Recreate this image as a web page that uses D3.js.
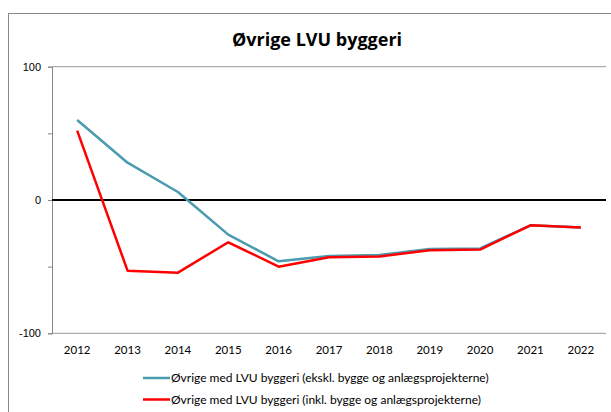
<!DOCTYPE html>
<html><head><meta charset="utf-8">
<script src="https://cdn.jsdelivr.net/npm/d3@7"></script>
<style>body{margin:0;background:#fff}svg{display:block}</style>
</head><body>
<script>
const years = ["2012","2013","2014","2015","2016","2017","2018","2019","2020","2021","2022"];
const ekskl = [60, 28, 6, -26, -46, -42, -41.3, -36.8, -36.3, -19, -20.7];
const inkl = [52, -53, -54.5, -31.7, -50, -43, -42.3, -37.7, -37.2, -19, -20.7];
const seriesNames = ["Øvrige med LVU byggeri (ekskl. bygge og anlægsprojekterne)", "Øvrige med LVU byggeri (inkl. bygge og anlægsprojekterne)"];
const colors = ["#4A9BB0", "#FF0000"];
const yTicks = [-100, -50, 0, 50, 100];
const yLabels = [-100, 0, 100];
const title = "Øvrige LVU byggeri";

const W = 611, H = 412;
const svg = d3.select("body").append("svg").attr("width", W).attr("height", H);
svg.append("rect").attr("x", 8.5).attr("y", 13.5).attr("width", 700).attr("height", 500)
  .attr("fill", "#fff").attr("stroke", "#888").attr("stroke-width", 1);

const pL = 52, pR = 606, pT = 66.7, pB = 333.3;
const x = d3.scaleBand().domain(years).range([pL, pR]);
const y = d3.scaleLinear().domain([-100, 100]).range([pB, pT]);

svg.append("text").attr("x", 317).attr("y", 46).attr("text-anchor", "middle")
  .attr("font-family", "Open Sans, sans-serif").attr("font-weight", "bold").attr("font-size", 18)
  .attr("fill", "#000").text(title);

svg.append("line").attr("x1", pL).attr("x2", pR).attr("y1", y(100)).attr("y2", y(100))
  .attr("stroke", "#999").attr("stroke-width", 1);
svg.append("line").attr("x1", pL).attr("x2", pR).attr("y1", y(-100)).attr("y2", y(-100))
  .attr("stroke", "#999").attr("stroke-width", 1);

const yAxis = svg.append("g").attr("transform", `translate(${pL},0)`)
  .call(d3.axisLeft(y).tickValues(yTicks).tickSize(4).tickFormat(d => yLabels.includes(d) ? d : ""));
yAxis.select(".domain").attr("stroke", "#888");
yAxis.selectAll(".tick line").attr("stroke", "#888");
yAxis.selectAll(".tick text").attr("font-family", "Liberation Sans, Arial, sans-serif")
  .attr("font-size", 11).attr("fill", "#000").attr("x", -11);

const xAxis = svg.append("g").attr("transform", `translate(0,${pB})`)
  .call(d3.axisBottom(x).tickSize(0).tickPadding(13));
xAxis.select(".domain").remove();
xAxis.selectAll(".tick text").attr("font-family", "Lato, sans-serif").attr("font-size", 11.5).attr("fill", "#000");

svg.append("line").attr("x1", pL).attr("x2", pR).attr("y1", y(0)).attr("y2", y(0))
  .attr("stroke", "#000").attr("stroke-width", 2);

const line = d3.line().x((d, i) => x(years[i]) + x.bandwidth() / 2).y(d => y(d));
[ekskl, inkl].forEach((s, k) => {
  svg.append("path").datum(s).attr("d", line).attr("fill", "none")
    .attr("stroke", colors[k]).attr("stroke-width", 2.5).attr("stroke-linejoin", "round");
});

seriesNames.forEach((n, k) => {
  const ly = 378 + k * 21.5;
  svg.append("line").attr("x1", 143).attr("x2", 170).attr("y1", ly).attr("y2", ly)
    .attr("stroke", colors[k]).attr("stroke-width", 2.5);
  svg.append("text").attr("x", 171).attr("y", ly + 4).attr("font-family", "Lato, sans-serif")
    .attr("font-size", 12).attr("fill", "#000").text(n);
});
</script>
</body></html>
